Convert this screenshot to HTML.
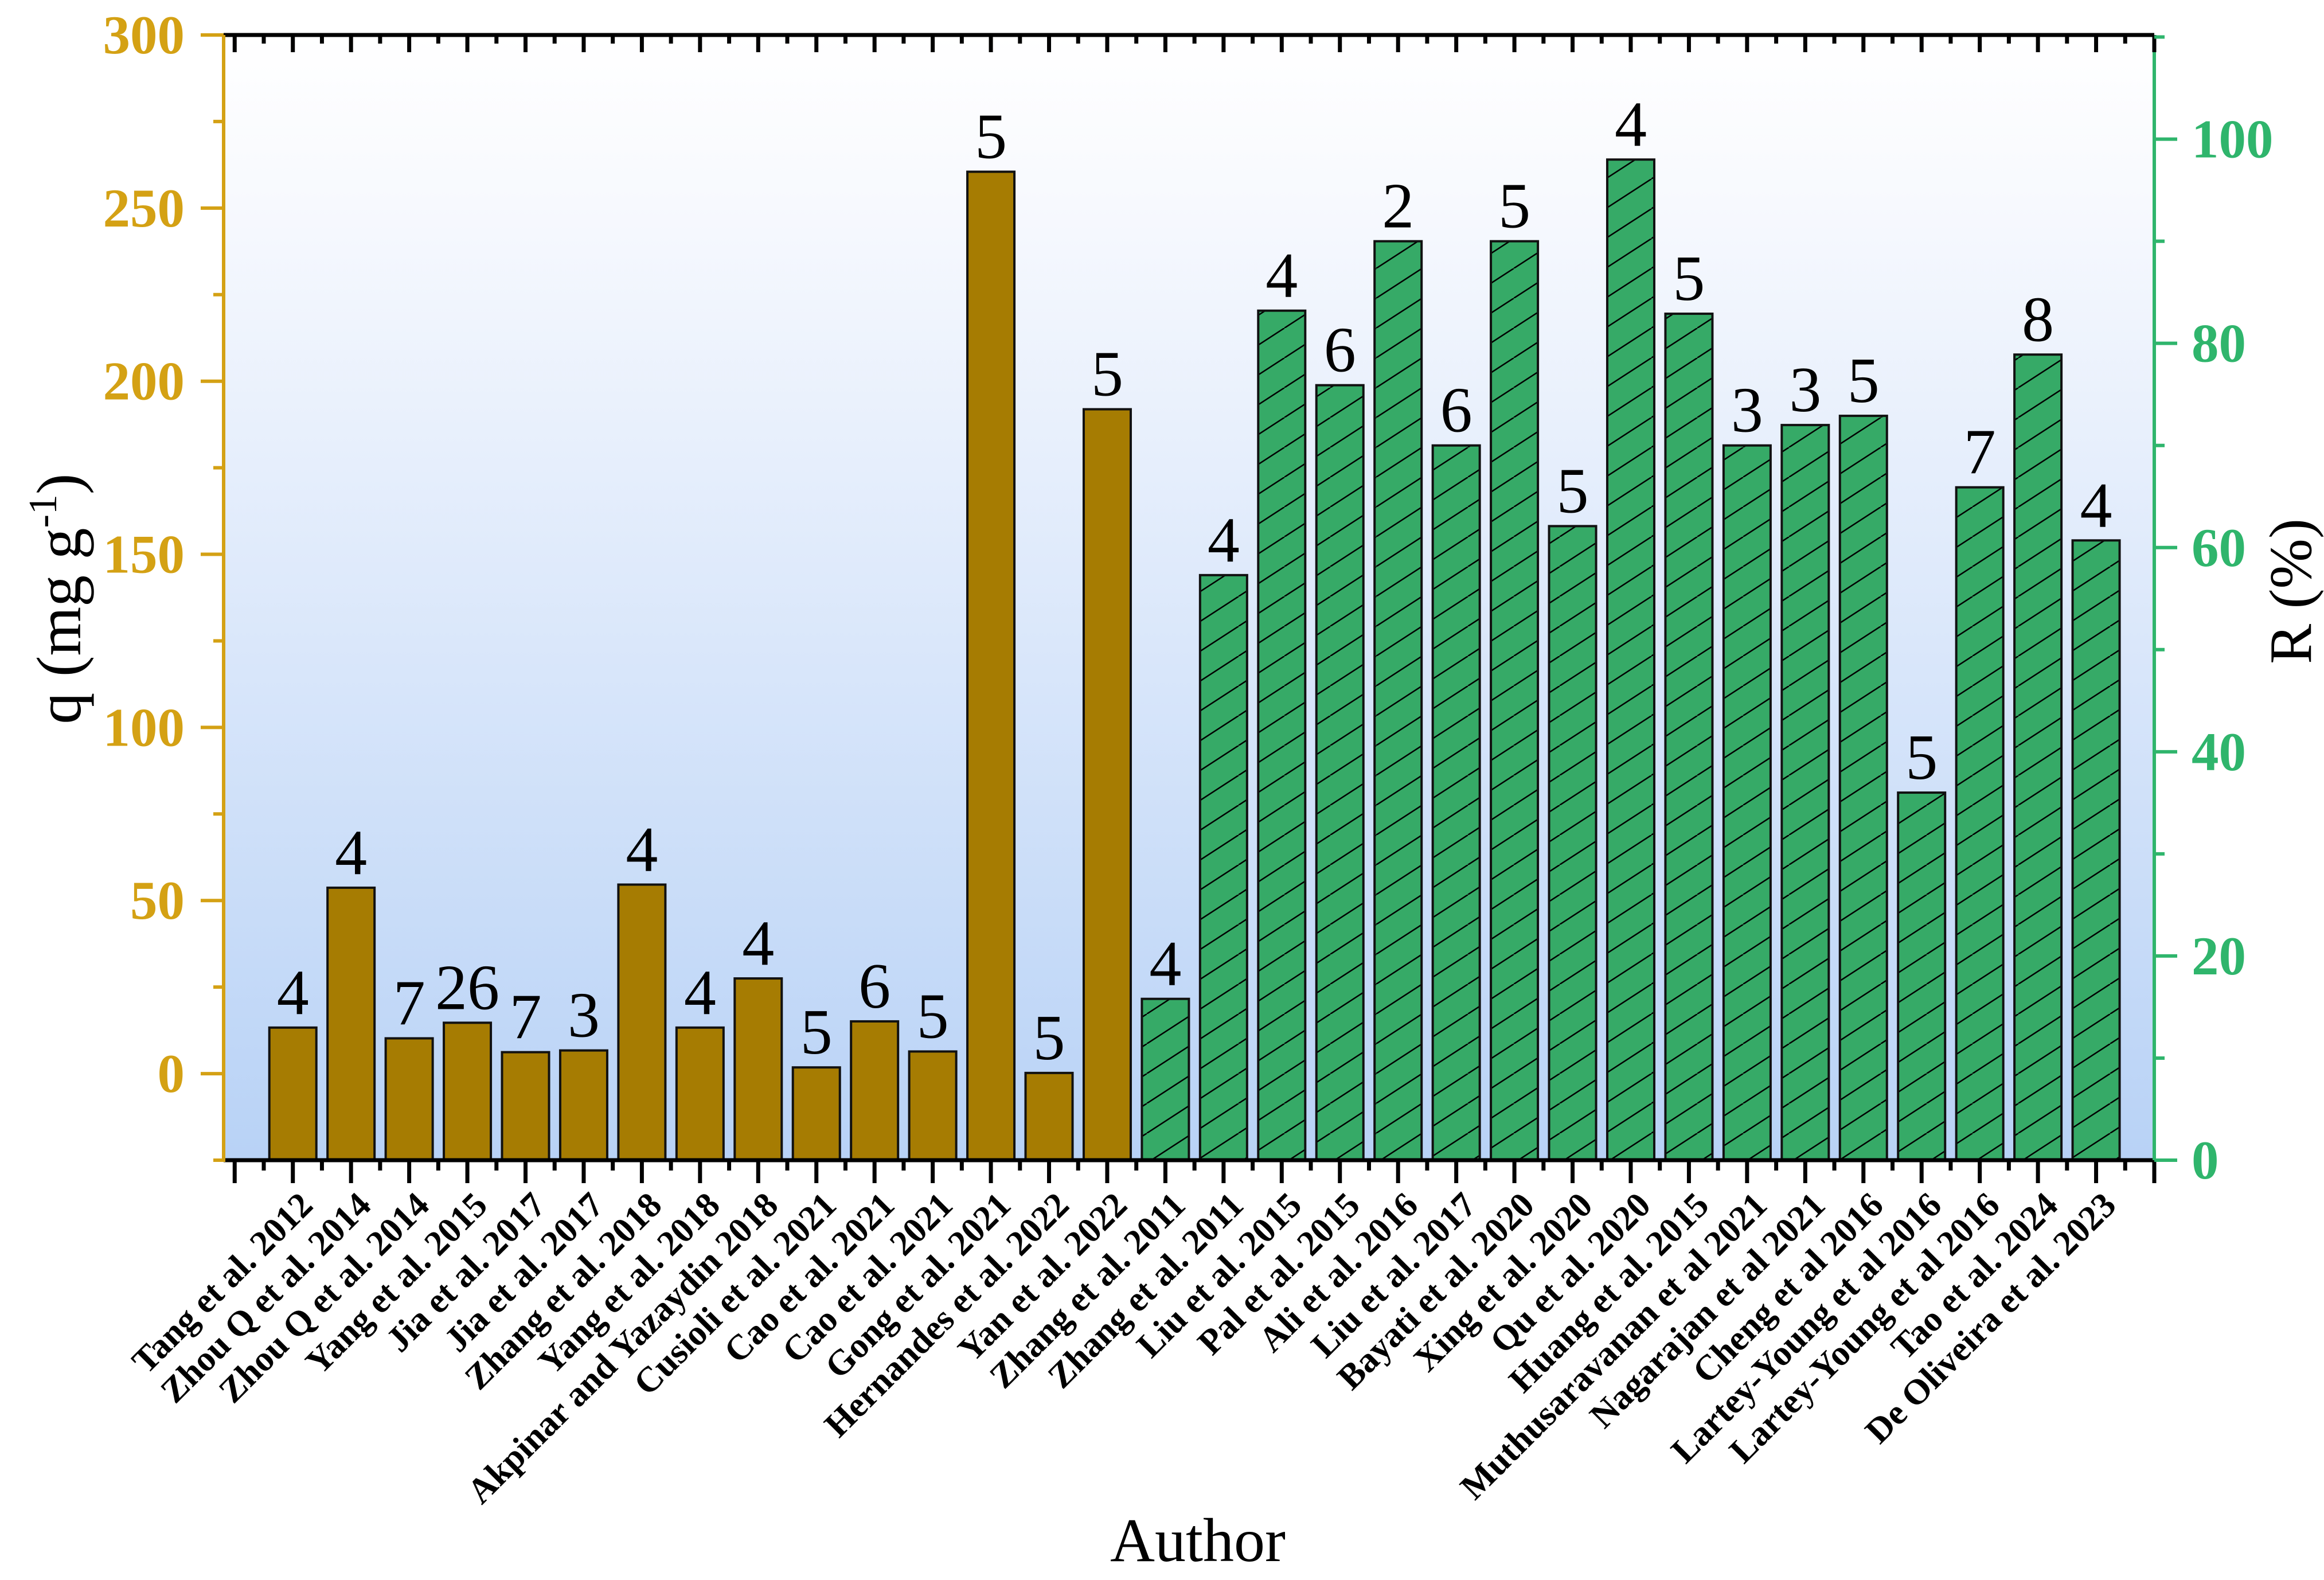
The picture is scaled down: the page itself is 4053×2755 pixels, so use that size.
<!DOCTYPE html>
<html><head><meta charset="utf-8"><style>
html,body{margin:0;padding:0;background:#fff;}
svg{display:block;}
</style></head><body>
<svg id="chart" width="4053" height="2755" viewBox="0 0 4053 2755" xmlns="http://www.w3.org/2000/svg">
<defs>
<linearGradient id="bg" x1="0" y1="0" x2="0" y2="1">
<stop offset="0" stop-color="#ffffff"/>
<stop offset="0.15" stop-color="#f7f9fe"/>
<stop offset="1" stop-color="#b8d2f6"/>
</linearGradient>
<pattern id="hatch" patternUnits="userSpaceOnUse" width="80" height="52">
<line x1="0" y1="52" x2="80" y2="0" stroke="#000" stroke-width="2.5"/>
<line x1="-80" y1="52" x2="0" y2="0" stroke="#000" stroke-width="2.5"/>
<line x1="80" y1="52" x2="160" y2="0" stroke="#000" stroke-width="2.5"/>
</pattern>
</defs>
<rect x="390" y="61" width="3367" height="1962" fill="url(#bg)"/>
<g id="bars"></g>
<g id="axes"></g>
<text transform="translate(140,1044) rotate(-90)" text-anchor="middle" font-family="Liberation Serif, serif" font-size="110" fill="#000">q (mg g<tspan dy="-42" font-size="70">-1</tspan><tspan dy="42">)</tspan></text>
<text transform="translate(4030,1031) rotate(-90)" text-anchor="middle" font-family="Liberation Serif, serif" font-size="105" fill="#000">R (%)</text>
<text x="2089" y="2722" text-anchor="middle" font-family="Liberation Serif, serif" font-size="108" fill="#000">Author</text>
</svg>
<script>
const categories = ["Tang et al. 2012","Zhou Q et al. 2014","Zhou Q et al. 2014","Yang et al. 2015","Jia et al. 2017","Jia et al. 2017","Zhang et al. 2018","Yang et al. 2018","Akpinar and Yazaydin 2018","Cusioli et al. 2021","Cao et al. 2021","Cao et al. 2021","Gong et al. 2021","Hernandes et al. 2022","Yan et al. 2022","Zhang et al. 2011","Zhang et al. 2011","Liu et al. 2015","Pal et al. 2015","Ali et al. 2016","Liu et al. 2017","Bayati et al. 2020","Xing et al. 2020","Qu et al. 2020","Huang et al. 2015","Muthusaravanan et al 2021","Nagarajan et al 2021","Cheng et al 2016","Lartey-Young et al 2016","Lartey-Young et al 2016","Tao et al. 2024","De Oliveira et al. 2023"];
const qValues = [13.3,53.7,10.2,14.7,6.2,6.7,54.6,13.3,27.5,1.8,15.1,6.4,260.5,0.2,191.9];
const qLabels = ["4","4","7","26","7","3","4","4","4","5","6","5","5","5","5"];
const rValues = [15.8,57.3,83.2,75.9,90,70,90,62.1,98,82.9,70,72,72.9,36,65.9,78.9,60.7];
const rLabels = ["4","4","4","6","2","6","5","5","4","5","3","3","5","5","7","8","4"];
const qTicks = [0,50,100,150,200,250,300];
const rTicks = [0,20,40,60,80,100];

const NS="http://www.w3.org/2000/svg";
const L=390,R=3757,T=61,B=2023;
const xMin=-0.19,xMax=33;
function xs(i){return L+(i-xMin)*(R-L)/(xMax-xMin);}
function xc(k){return xs(k+1);} // category k (0-based) sits at index k+1
const qMin=-25,qMax=300;
function yq(v){return B-(v-qMin)*(B-T)/(qMax-qMin);}
const rMin=0,rMax=110.2;
function yr(v){return B-(v-rMin)*(B-T)/(rMax-rMin);}
const bw=82;
function mk(tag,attrs,parent){const e=document.createElementNS(NS,tag);for(const k in attrs)e.setAttribute(k,attrs[k]);parent.appendChild(e);return e;}
const bars=document.getElementById('bars'), axes=document.getElementById('axes');
const gold="#d4a114", green="#2fb56c";

qValues.forEach((v,i)=>{
  const x=xc(i), y=yq(v);
  const r=mk('rect',{x:x-bw/2,y:Math.min(y,B),width:bw,height:Math.max(B-y,0),fill:"#a67c02",stroke:"#111","stroke-width":4},bars);
  
  
  const t=mk('text',{x:x,y:y-24,"text-anchor":"middle","font-family":"Liberation Serif, serif","font-size":112,fill:"#000"},bars);
  t.textContent=qLabels[i];
  
  
});
rValues.forEach((v,j)=>{
  const i=j+qValues.length;
  const x=xc(i), y=yr(v);
  const r1=mk('rect',{x:x-bw/2,y:y,width:bw,height:B-y,fill:"#36aa67"},bars);
  
  
  const r=mk('rect',{x:x-bw/2,y:y,width:bw,height:B-y,fill:"url(#hatch)",stroke:"#111","stroke-width":4},bars);
  
  
  const t=mk('text',{x:x,y:y-24,"text-anchor":"middle","font-family":"Liberation Serif, serif","font-size":112,fill:"#000"},bars);
  t.textContent=rLabels[j];
  
  
});

let ln=mk('line',{x1:L,y1:T,x2:R,y2:T,stroke:"#000","stroke-width":7},axes);


ln=mk('line',{x1:L,y1:B,x2:R,y2:B,stroke:"#000","stroke-width":7},axes);


ln=mk('line',{x1:L,y1:T,x2:L,y2:B+3,stroke:gold,"stroke-width":6},axes);


ln=mk('line',{x1:R,y1:T,x2:R,y2:B+3,stroke:green,"stroke-width":6},axes);



for(let i=0;i<=xMax;i++){
  const x=xs(i);
  mk('line',{x1:x,y1:B,x2:x,y2:B+40,stroke:"#000","stroke-width":7},axes);
  mk('line',{x1:x,y1:T,x2:x,y2:T+30,stroke:"#000","stroke-width":7},axes);
  if(i<xMax){const xm=xs(i+0.5);
    mk('line',{x1:xm,y1:B,x2:xm,y2:B+18,stroke:"#000","stroke-width":7},axes);
    mk('line',{x1:xm,y1:T,x2:xm,y2:T+15,stroke:"#000","stroke-width":7},axes);}
}
categories.forEach((c,i)=>{
  const x=xc(i)+38, y=2105;
  const t=mk('text',{transform:`translate(${x},${y}) rotate(-45)`,"text-anchor":"end","font-family":"Liberation Serif, serif","font-size":62,"font-weight":"bold",fill:"#000"},axes);
  t.textContent=c;
  
  
});
for(let v=qMin;v<=qMax;v+=25){
  const y=yq(v), major=(v%50===0);
  mk('line',{x1:L-(major?40:18),y1:y,x2:L,y2:y,stroke:gold,"stroke-width":6},axes);
}
qTicks.forEach(v=>{
  const t=mk('text',{x:322,y:yq(v)+32,"text-anchor":"end","font-family":"Liberation Serif, serif","font-size":95,"font-weight":"bold",fill:gold},axes);
  t.textContent=v;
  
  
});
for(let v=0;v<=110;v+=10){
  const y=yr(v), major=(v%20===0);
  mk('line',{x1:R,y1:y,x2:R+(major?40:18),y2:y,stroke:green,"stroke-width":6},axes);
}
rTicks.forEach(v=>{
  const t=mk('text',{x:3822,y:yr(v)+32,"text-anchor":"start","font-family":"Liberation Serif, serif","font-size":95,"font-weight":"bold",fill:green},axes);
  t.textContent=v;
  
  
});
</script>
</body></html>
